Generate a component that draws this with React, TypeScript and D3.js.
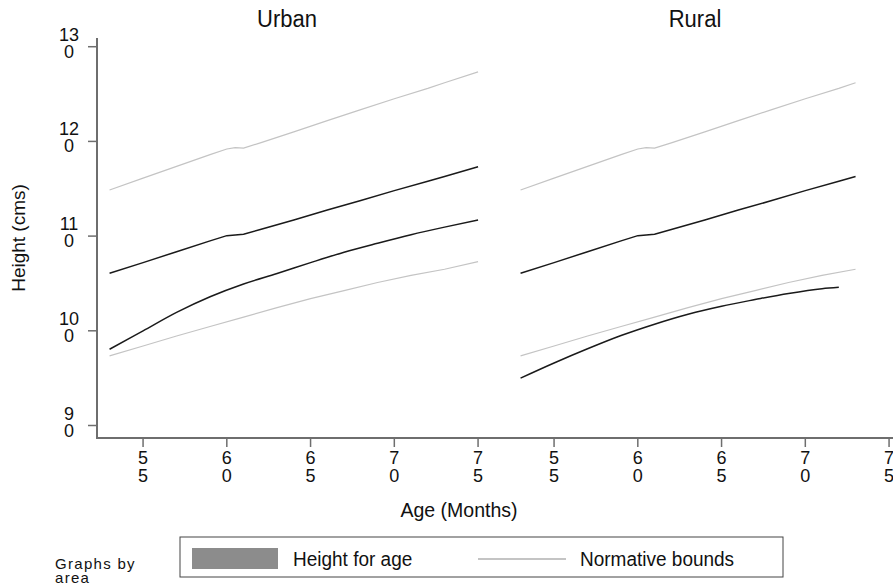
import React from "react";
import * as d3 from "d3";

// Panels (one per area)
const areas = ["Urban", "Rural"];

// Normative bounds, shared by both areas
const normMonths = [53, 55, 57, 59, 60, 60.5, 61, 62, 64, 66, 68, 70, 72, 73, 75];
const normUpper = [114.87, 116.12, 117.37, 118.6, 119.2, 119.35, 119.3, 119.85, 121.0, 122.2, 123.35, 124.5, 125.6, 126.2, 127.35];

const lowerMonths = [53, 55, 57, 59, 61, 63, 65, 67, 69, 71, 73, 75];
const normLower = [97.35, 98.4, 99.45, 100.45, 101.45, 102.45, 103.4, 104.25, 105.1, 105.85, 106.5, 107.3];

// Reference height-for-age curve
const refMonths = [53, 55, 57, 59, 60, 61, 62, 64, 66, 68, 70, 72, 73, 75];
const refHeight = [106.07, 107.2, 108.35, 109.5, 110.05, 110.2, 110.7, 111.7, 112.75, 113.75, 114.8, 115.8, 116.3, 117.33];

// Observed height for age by area
const urbanMonths = [53, 55, 57, 59, 61, 63, 65, 67, 69, 71, 73, 75];
const urbanHeight = [98.05, 100.0, 101.95, 103.6, 104.95, 106.05, 107.2, 108.3, 109.25, 110.15, 110.95, 111.7];
const ruralMonths = [53, 55, 57, 59, 61, 63, 65, 67, 69, 71, 72];
const ruralHeight = [95.0, 96.6, 98.1, 99.5, 100.7, 101.75, 102.6, 103.3, 103.95, 104.45, 104.6];

// Last month of data per area
const areaLastMonth = [75, 73];

// Axis ticks and their wrapped labels
const xTicks = [55, 60, 65, 70, 75];
const xTickLabels = [["5", "5"], ["6", "0"], ["6", "5"], ["7", "0"], ["7", "5"]];
const yTicks = [90, 100, 110, 120, 130];
const yTickLabels = [["9", "0"], ["10", "0"], ["11", "0"], ["12", "0"], ["13", "0"]];

const legendLabels = ["Height for age", "Normative bounds"];

const W = 893;
const H = 587;
const FONT = "'Liberation Sans', Arial, Helvetica, sans-serif";
const DARK = "#1a1a1a";
const LIGHT = "#c4c4c4";
const AXIS = "#6e6e6e";

const plotTop = 38;
const plotBottom = 438;
const plotLeft = 97;
const panelWidth = 411;

const yScale = d3.scaleLinear().domain([88.68, 130.92]).range([plotBottom, plotTop]);
const xDomain: [number, number] = [52.25, 52.25 + panelWidth / 16.75];

type Pt = [number, number];
const zip = (ms: number[], vs: number[], maxM: number): Pt[] =>
  ms.map((m, i) => [m, vs[i]] as Pt).filter((p) => p[0] <= maxM);

function Txt(props: {
  x: number;
  y: number;
  size: number;
  sy?: number;
  anchor?: string;
  rotate?: number;
  fill?: string;
  spacing?: number;
  children: React.ReactNode;
}) {
  const { x, y, size, sy = 1, anchor = "start", rotate = 0, fill = "#111", spacing = 0 } = props;
  return (
    <text
      transform={`translate(${x},${y}) rotate(${rotate}) scale(1,${sy})`}
      fontFamily={FONT}
      fontSize={size}
      textAnchor={anchor}
      letterSpacing={spacing}
      fill={fill}
    >
      {props.children}
    </text>
  );
}

export default function App() {
  return (
    <div style={{ position: "fixed", left: 0, top: 0 }}>
      <svg width={W} height={H} style={{ display: "block", background: "#fff" }}>
        <rect width={W} height={H} fill="#fff" />

        {areas.map((area, ai) => {
          const x0 = plotLeft + ai * panelWidth;
          const x = d3.scaleLinear().domain(xDomain).range([x0, x0 + panelWidth]);
          const last = areaLastMonth[ai];
          const line = d3
            .line<Pt>()
            .x((d) => x(d[0]))
            .y((d) => yScale(d[1]));
          const smooth = d3
            .line<Pt>()
            .x((d) => x(d[0]))
            .y((d) => yScale(d[1]))
            .curve(d3.curveMonotoneX);
          const obs = ai === 0 ? zip(urbanMonths, urbanHeight, last) : zip(ruralMonths, ruralHeight, last);
          return (
            <g key={area}>
              <Txt x={ai === 0 ? 287 : 695} y={27} size={22} sy={1.05} anchor="middle">
                {area}
              </Txt>
              <path d={line(zip(normMonths, normUpper, last)) || ""} fill="none" stroke={LIGHT} strokeWidth={1.2} />
              <path d={line(zip(lowerMonths, normLower, last)) || ""} fill="none" stroke={LIGHT} strokeWidth={1.2} />
              <path d={line(zip(refMonths, refHeight, last)) || ""} fill="none" stroke={DARK} strokeWidth={1.5} />
              <path d={smooth(obs) || ""} fill="none" stroke={DARK} strokeWidth={1.5} />
              {xTicks.map((t, i) => (
                <g key={t}>
                  <line x1={x(t)} x2={x(t)} y1={plotBottom} y2={plotBottom + 9} stroke={AXIS} strokeWidth={1.5} />
                  <Txt x={x(t)} y={464} size={18} anchor="middle">
                    {xTickLabels[i][0]}
                  </Txt>
                  <Txt x={x(t)} y={482} size={18} anchor="middle">
                    {xTickLabels[i][1]}
                  </Txt>
                </g>
              ))}
            </g>
          );
        })}

        {/* axes */}
        <line x1={plotLeft} x2={plotLeft} y1={plotTop} y2={plotBottom + 1} stroke={AXIS} strokeWidth={2} />
        <line x1={plotLeft - 1} x2={W} y1={plotBottom} y2={plotBottom} stroke={AXIS} strokeWidth={2} />
        {yTicks.map((t, i) => (
          <g key={t}>
            <line x1={plotLeft - 9} x2={plotLeft} y1={yScale(t)} y2={yScale(t)} stroke={AXIS} strokeWidth={1.5} />
            <Txt x={69} y={yScale(t) - 6} size={18} anchor="middle">
              {yTickLabels[i][0]}
            </Txt>
            <Txt x={69} y={yScale(t) + 11} size={18} anchor="middle">
              {yTickLabels[i][1]}
            </Txt>
          </g>
        ))}

        <Txt x={25} y={238} size={19} anchor="middle" rotate={-90}>
          Height (cms)
        </Txt>
        <Txt x={459} y={517} size={19.5} anchor="middle">
          Age (Months)
        </Txt>

        {/* legend */}
        <rect x={180} y={537} width={603} height={40} fill="#fff" stroke="#444" strokeWidth={1} />
        <rect x={192} y={548} width={86} height={21} fill="#8c8c8c" />
        <Txt x={293} y={566} size={19} sy={1.08}>
          {legendLabels[0]}
        </Txt>
        <line x1={478} x2={566} y1={559} y2={559} stroke={LIGHT} strokeWidth={2} />
        <Txt x={580} y={566} size={19} sy={1.08}>
          {legendLabels[1]}
        </Txt>

        <Txt x={55} y={569} size={15} spacing={1.3}>
          Graphs by
        </Txt>
        <Txt x={55} y={583} size={15} spacing={1.3}>
          area
        </Txt>
      </svg>
    </div>
  );
}
